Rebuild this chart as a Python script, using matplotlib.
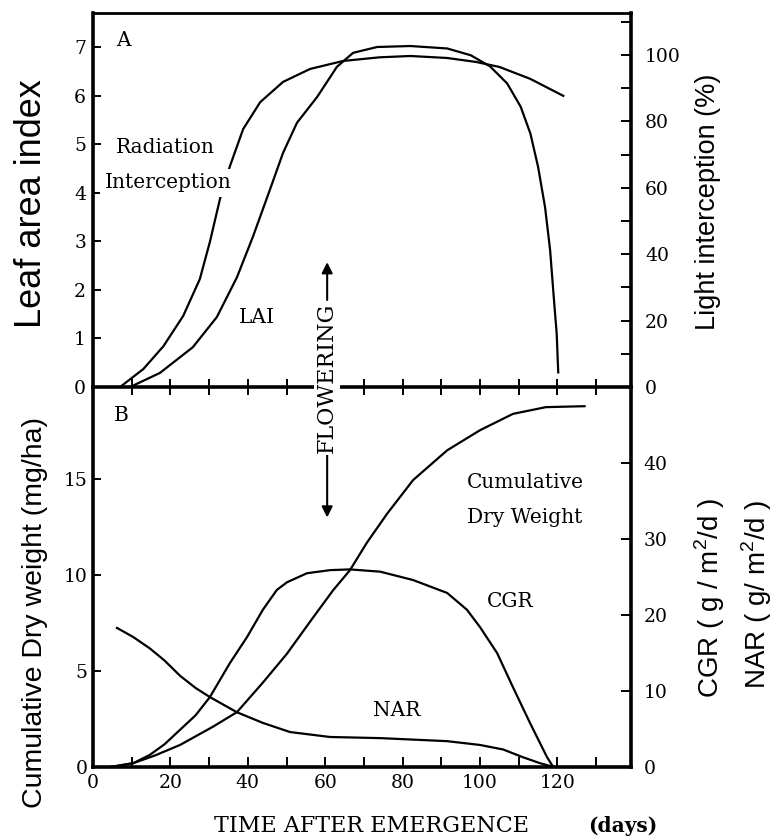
import matplotlib
matplotlib.use("Agg")
import matplotlib.pyplot as plt
from matplotlib.ticker import MultipleLocator, FixedLocator

# ---------------- data ----------------
# Panel A
rad_days = [7, 13, 18.2, 23.3, 27.6, 30.2, 32.8, 35.4, 38.8, 43.2, 49.1, 56.1, 64.6,
            74, 82, 91.5, 99, 105, 113, 121.5]
rad_pct = [0, 5.4, 12.3, 21.4, 32.5, 43.7, 56.6, 66.6, 77.7, 85.8, 91.9, 95.8, 98.2,
           99.3, 99.7, 99.1, 97.9, 96.4, 92.8, 87.7]

lai_days = [9.6, 17.3, 25.8, 32, 37.2, 41.3, 45.7, 49.1, 52.7, 57.9, 63, 67.2, 73.4,
            82, 91.5, 97.6, 102.6, 107, 110.5, 113, 115, 116.8, 118.1, 119.1, 119.8,
            120.2]
lai_vals = [0, 0.29, 0.82, 1.44, 2.26, 3.09, 4.06, 4.82, 5.44, 5.97, 6.59, 6.88, 7.0,
            7.02, 6.97, 6.83, 6.6, 6.25, 5.77, 5.22, 4.53, 3.7, 2.82, 1.79, 1.1, 0.3]

# Panel B
cdw_days = [4.5, 10.4, 16, 22.5, 31, 37.2, 43.9, 50.1, 56.9, 62, 66.4, 70.8, 76,
            82.7, 91.5, 100, 108.5, 117, 127]
cdw_vals = [0, 0.2, 0.6, 1.15, 2.1, 2.86, 4.4, 5.9, 7.8, 9.2, 10.26, 11.7, 13.2,
            14.95, 16.5, 17.55, 18.4, 18.75, 18.8]

cgr_days = [4.5, 10.4, 14.7, 18.5, 22.5, 26.5, 30.2, 35.4, 39.8, 43.9, 47.5, 50.1,
            55.3, 61.2, 66.4, 74.2, 82.7, 91.5, 96.6, 100, 104.4, 108.5, 112.9,
            117.3, 118.9]
cgr_vals = [0, 0.5, 1.6, 3.0, 4.9, 6.8, 9.2, 13.7, 17.1, 20.7, 23.3, 24.3, 25.5,
            25.9, 26.0, 25.7, 24.6, 22.9, 20.7, 18.4, 15.0, 10.5, 5.8, 1.3, 0]

nar_days = [6.2, 10.4, 14.7, 18.5, 22.5, 26.5, 30.2, 37.2, 43.9, 50.9, 61.2, 74.2,
            91.5, 100, 106, 111, 115.5, 119]
nar_vals = [18.3, 17.1, 15.6, 14.0, 12.0, 10.4, 9.2, 7.2, 5.8, 4.6, 3.95, 3.8,
            3.4, 2.9, 2.3, 1.3, 0.5, 0]

lai_ticks = [0, 1, 2, 3, 4, 5, 6, 7]
light_ticks = [0, 20, 40, 60, 80, 100]
dw_ticks = [0, 5, 10, 15]
rate_ticks = [0, 10, 20, 30, 40]
day_ticks = [0, 20, 40, 60, 80, 100, 120]

# ---------------- figure ----------------
SERIF = ["DejaVu Serif"]
SANS = ["Liberation Sans", "DejaVu Sans"]
plt.rcParams["font.family"] = SERIF
plt.rcParams["mathtext.fontset"] = "custom"
plt.rcParams["mathtext.rm"] = "Liberation Sans"

W_PX, H_PX = 773, 839
fig = plt.figure(figsize=(W_PX / 100, H_PX / 100), dpi=100)
fig.patch.set_facecolor("white")

left = 93 / W_PX
width = 538 / W_PX
ax1 = fig.add_axes([left, 1 - 387 / H_PX, width, 374 / H_PX])
ax2 = fig.add_axes([left, 1 - 767 / H_PX, width, 380 / H_PX])
ax2.patch.set_visible(False)
ax1r = ax1.twinx()
ax2r = ax2.twinx()

LW = 1.6
TICK_FS = 13.5

for ax in (ax1, ax2):
    ax.set_xlim(0, 139)
ax1.set_ylim(0, 7.7)
ax1r.set_ylim(0, 112.65)
ax2.set_ylim(0, 19.8)
ax2r.set_ylim(0, 50)

# curves
ax1r.plot(rad_days, rad_pct, color="black", lw=LW, solid_joinstyle="round")
ax1.plot(lai_days, lai_vals, color="black", lw=LW, solid_joinstyle="round")
ax2.plot(cdw_days, cdw_vals, color="black", lw=LW, solid_joinstyle="round")
ax2r.plot(cgr_days, cgr_vals, color="black", lw=LW, solid_joinstyle="round")
ax2r.plot(nar_days, nar_vals, color="black", lw=LW, solid_joinstyle="round")

# spines
for a in (ax1, ax1r, ax2, ax2r):
    for s in a.spines.values():
        s.set_linewidth(2.6)
        s.set_color("black")
ax1.spines["top"].set_linewidth(2.0)
ax1.spines["right"].set_visible(False)
for s in ("left", "top", "bottom"):
    ax1r.spines[s].set_visible(False)
    ax2r.spines[s].set_visible(False)
ax2.spines["top"].set_visible(False)
ax2.spines["right"].set_visible(False)

# ticks panel A
ax1.xaxis.set_major_locator(MultipleLocator(10))
ax1.tick_params(axis="x", which="both", direction="inout", length=12, width=1.4,
                labelbottom=False, top=False)
ax1.yaxis.set_major_locator(FixedLocator(lai_ticks))
ax1.tick_params(axis="y", direction="in", length=6, width=1.4, pad=5,
                labelsize=TICK_FS)
ax1r.yaxis.set_major_locator(FixedLocator(light_ticks))
ax1r.yaxis.set_minor_locator(MultipleLocator(10))
ax1r.tick_params(axis="y", which="both", direction="in", length=7, width=1.4, pad=10,
                 labelsize=TICK_FS)

# ticks panel B
ax2.xaxis.set_major_locator(FixedLocator(day_ticks))
ax2.xaxis.set_minor_locator(MultipleLocator(10))
ax2.tick_params(axis="x", which="both", direction="in", length=7, width=1.4, pad=5,
                labelsize=TICK_FS, top=False)
ax2.yaxis.set_major_locator(FixedLocator(dw_ticks))
ax2.tick_params(axis="y", direction="in", length=6, width=1.4, pad=4,
                labelsize=TICK_FS)
ax2r.yaxis.set_major_locator(FixedLocator(rate_ticks))
ax2r.tick_params(axis="y", direction="in", length=7, width=1.4, pad=9,
                 labelsize=TICK_FS)

# axis labels (positioned as in reference)
fig.text(32 / W_PX, 1 - 204 / H_PX, "Leaf area index", rotation=90, ha="center",
         va="center", fontsize=26, family=SANS)
fig.text(35 / W_PX, 1 - 613 / H_PX, "Cumulative Dry weight (mg/ha)", rotation=90,
         ha="center", va="center", fontsize=20.5, family=SANS)
fig.text(708 / W_PX, 1 - 202 / H_PX, "Light interception (%)", rotation=90,
         ha="center", va="center", fontsize=19.5, family=SANS)
fig.text(710 / W_PX, 1 - 598 / H_PX, "CGR ( g / m$^2$/d )", rotation=90,
         ha="center", va="center", fontsize=20, family=SANS)
fig.text(757 / W_PX, 1 - 594 / H_PX, "NAR ( g/ m$^2$/d )", rotation=90,
         ha="center", va="center", fontsize=20, family=SANS)
fig.text(372 / W_PX, 1 - 826 / H_PX, "TIME AFTER EMERGENCE", ha="center",
         va="center", fontsize=16)
fig.text(623 / W_PX, 1 - 826 / H_PX, "(days)", ha="center", va="center",
         fontsize=14.5, fontweight="bold")

# annotations
ANN = 14.5
ax1.text(7.75, 7.14, "A", fontsize=ANN, ha="center", va="center")
ax1r.text(18.6, 4.94, "Radiation", fontsize=ANN, ha="center", va="center",
          transform=ax1.transData)
ax1r.text(19.4, 4.2, "Interception", fontsize=ANN, ha="center", va="center",
          transform=ax1.transData, zorder=5,
          bbox=dict(facecolor="white", edgecolor="none", pad=3))
ax1.text(42.4, 1.44, "LAI", fontsize=ANN, ha="center", va="center")
ax2.text(7.2, 18.3, "B", fontsize=ANN, ha="center", va="center")
ax2.text(111.6, 14.84, "Cumulative", fontsize=ANN, ha="center", va="center")
ax2.text(111.6, 13.0, "Dry Weight", fontsize=ANN, ha="center", va="center")
ax2.text(107.8, 8.6, "CGR", fontsize=ANN, ha="center", va="center")
ax2.text(78.5, 2.97, "NAR", fontsize=ANN, ha="center", va="center")

# flowering marker
fig.text(60.5, 0.185, "FLOWERING", transform=ax1.transData, rotation=90,
         ha="center", va="center", fontsize=16, zorder=20,
         bbox=dict(facecolor="white", edgecolor="none", pad=1.5))
arrow = dict(arrowstyle="-|>", lw=1.5, color="black", mutation_scale=16,
             shrinkA=0, shrinkB=0)
ax1.annotate("", xy=(60.5, 2.57), xytext=(60.5, 1.79), arrowprops=arrow)
ax2.annotate("", xy=(60.5, 13.0), xytext=(60.5, 16.25), arrowprops=arrow)

fig.savefig("out.png", dpi=100, facecolor="white")
